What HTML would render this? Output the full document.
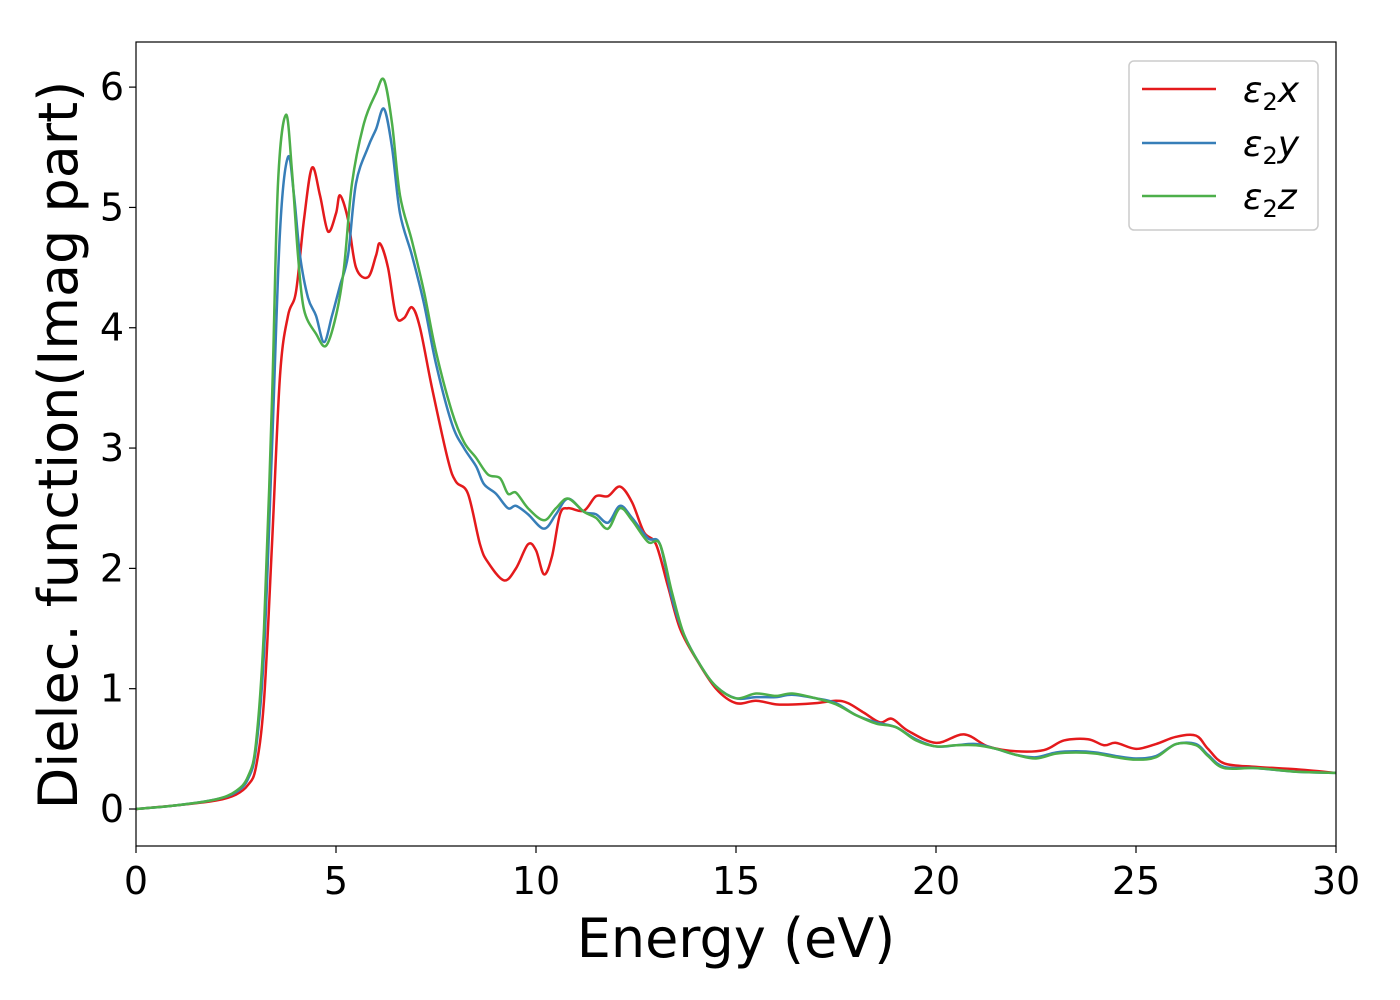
<!DOCTYPE html>
<html><head><meta charset="utf-8"><style>
html,body{margin:0;padding:0;background:#fff;}
svg{display:block;font-family:"DejaVu Sans","Liberation Sans",sans-serif;}
</style></head><body>
<svg id="chart" width="1400" height="1000">
<rect x="0" y="0" width="1400" height="1000" fill="#fff"/>
<g id="plot"></g>
<g id="axes"></g>
<text x="736" y="957" font-size="54" text-anchor="middle">Energy (eV)</text>
<text transform="translate(77,445) rotate(-90)" font-size="54" text-anchor="middle">Dielec. function(Imag part)</text>
<g>
<rect x="1129" y="61" width="189" height="169" rx="5" fill="#fff" stroke="#ccc" stroke-width="1.5"/>
<g><line x1="1142" y1="89" x2="1216" y2="89" stroke="#e41a1c" stroke-width="2.5"/><text x="1243" y="102" font-size="36" font-style="italic">ε<tspan font-size="24" dy="8" font-style="normal">2</tspan><tspan dy="-8">x</tspan></text></g>
<g><line x1="1142" y1="143" x2="1216" y2="143" stroke="#377eb8" stroke-width="2.5"/><text x="1243" y="156" font-size="36" font-style="italic">ε<tspan font-size="24" dy="8" font-style="normal">2</tspan><tspan dy="-8">y</tspan></text></g>
<g><line x1="1142" y1="196" x2="1216" y2="196" stroke="#4daf4a" stroke-width="2.5"/><text x="1243" y="209" font-size="36" font-style="italic">ε<tspan font-size="24" dy="8" font-style="normal">2</tspan><tspan dy="-8">z</tspan></text></g>
</g>
</svg>
<script>
const xTicks=[0,5,10,15,20,25,30];
const yTicks=[0,1,2,3,4,5,6];
const epsXE=[0,1,2,2.5,2.8,3.0,3.2,3.4,3.6,3.8,4.0,4.2,4.4,4.6,4.8,5.0,5.1,5.3,5.5,5.8,6.0,6.1,6.3,6.5,6.7,6.9,7.1,7.4,7.8,8.0,8.3,8.6,8.8,9.2,9.5,9.8,10.0,10.2,10.4,10.6,10.8,11.2,11.5,11.8,12.1,12.4,12.7,13.0,13.3,13.6,14.0,14.5,15.0,15.5,16,16.5,17,17.5,17.8,18.2,18.6,18.9,19.3,20,20.7,21.3,22,22.7,23.2,23.8,24.2,24.5,25,25.5,26,26.5,26.8,27.2,28,29,30];
const epsXV=[0,0.03,0.07,0.12,0.2,0.35,0.9,2.2,3.6,4.1,4.3,4.9,5.33,5.1,4.8,4.95,5.1,4.9,4.5,4.42,4.6,4.7,4.5,4.1,4.08,4.17,4.0,3.5,2.9,2.72,2.62,2.2,2.05,1.9,2.0,2.2,2.15,1.95,2.1,2.45,2.5,2.48,2.6,2.6,2.68,2.55,2.3,2.2,1.85,1.5,1.25,1.0,0.88,0.9,0.87,0.87,0.88,0.9,0.88,0.8,0.72,0.75,0.65,0.55,0.62,0.52,0.48,0.49,0.57,0.58,0.53,0.55,0.5,0.54,0.6,0.61,0.5,0.38,0.35,0.33,0.3];
const epsYE=[0,1,2,2.5,2.8,3.0,3.2,3.4,3.6,3.8,3.95,4.1,4.3,4.5,4.7,4.9,5.1,5.3,5.5,5.8,6.0,6.2,6.4,6.6,6.9,7.2,7.5,7.9,8.2,8.5,8.7,9.0,9.3,9.5,9.8,10.2,10.5,10.8,11.2,11.5,11.8,12.1,12.4,12.8,13.1,13.4,13.7,14.1,14.5,15,15.5,16,16.4,17,17.5,18,18.5,19,19.5,20,20.5,21,21.5,22,22.5,23,23.5,24,24.5,25,25.5,26,26.5,26.8,27.2,28,29,30];
const epsYV=[0,0.03,0.08,0.14,0.25,0.5,1.3,3.0,4.8,5.42,5.1,4.6,4.25,4.1,3.88,4.1,4.35,4.6,5.2,5.5,5.65,5.82,5.5,4.95,4.6,4.2,3.7,3.2,3.0,2.85,2.7,2.62,2.5,2.52,2.45,2.33,2.45,2.58,2.47,2.45,2.38,2.52,2.42,2.25,2.2,1.75,1.45,1.2,1.02,0.92,0.93,0.93,0.95,0.92,0.88,0.78,0.72,0.68,0.58,0.52,0.53,0.54,0.5,0.45,0.43,0.47,0.48,0.47,0.44,0.42,0.44,0.54,0.54,0.45,0.35,0.34,0.31,0.3];
const epsZE=[0,1,2,2.5,2.8,3.0,3.2,3.4,3.55,3.75,3.9,4.05,4.2,4.5,4.75,5.0,5.2,5.4,5.7,6.0,6.2,6.4,6.6,6.9,7.2,7.5,7.9,8.2,8.5,8.8,9.1,9.3,9.5,9.8,10.2,10.5,10.8,11.2,11.5,11.8,12.1,12.4,12.8,13.1,13.4,13.7,14.1,14.5,15,15.5,16,16.4,17,17.5,18,18.5,19,19.5,20,20.5,21,21.5,22,22.5,23,23.5,24,24.5,25,25.5,26,26.5,26.8,27.2,28,29,30];
const epsZV=[0,0.03,0.08,0.15,0.27,0.55,1.5,3.4,5.2,5.77,5.3,4.6,4.15,3.95,3.85,4.1,4.5,5.2,5.7,5.95,6.06,5.7,5.1,4.72,4.3,3.8,3.3,3.05,2.92,2.78,2.75,2.62,2.63,2.5,2.4,2.5,2.58,2.47,2.42,2.33,2.5,2.4,2.22,2.2,1.8,1.45,1.2,1.02,0.92,0.96,0.94,0.96,0.92,0.87,0.78,0.71,0.68,0.57,0.52,0.53,0.53,0.5,0.45,0.42,0.46,0.47,0.46,0.43,0.41,0.43,0.54,0.53,0.44,0.34,0.34,0.31,0.3];

const NS="http://www.w3.org/2000/svg";
const L=136,R=1336,T=42,B=846;
const xMin=0,xMax=30,yMin=-0.3075,yMax=6.375;
const sx=v=>L+(v-xMin)/(xMax-xMin)*(R-L);
const sy=v=>B-(v-yMin)/(yMax-yMin)*(B-T);
const plot=document.getElementById('plot'),axes=document.getElementById('axes');
function smooth(xs,ys){
  const p=xs.map((x,i)=>[sx(x),sy(ys[i])]);
  let d=`M${p[0][0]},${p[0][1]}`;
  for(let i=0;i<p.length-1;i++){
    const p0=p[i-1]||p[i],p1=p[i],p2=p[i+1],p3=p[i+2]||p2;
    const c1=[p1[0]+(p2[0]-p0[0])/6,p1[1]+(p2[1]-p0[1])/6];
    const c2=[p2[0]-(p3[0]-p1[0])/6,p2[1]-(p3[1]-p1[1])/6];
    d+=`C${c1[0]},${c1[1]} ${c2[0]},${c2[1]} ${p2[0]},${p2[1]}`;
  }
  return d;
}
function line(xs,ys,col,name){
  const el=document.createElementNS(NS,'path');
  el.setAttribute('d',smooth(xs,ys));
  el.setAttribute('fill','none');el.setAttribute('stroke',col);el.setAttribute('stroke-width','2.5');
  
  
  plot.appendChild(el);
}
line(epsXE,epsXV,'#e41a1c','series-eps2-x');
line(epsYE,epsYV,'#377eb8','series-eps2-y');
line(epsZE,epsZV,'#4daf4a','series-eps2-z');
const fr=document.createElementNS(NS,'rect');
fr.setAttribute('x',L);fr.setAttribute('y',T);fr.setAttribute('width',R-L);fr.setAttribute('height',B-T);
fr.setAttribute('fill','none');fr.setAttribute('stroke','#000');fr.setAttribute('stroke-width','1.2');


axes.appendChild(fr);
xTicks.forEach(v=>{
  const t=document.createElementNS(NS,'line');
  t.setAttribute('x1',sx(v));t.setAttribute('x2',sx(v));t.setAttribute('y1',B);t.setAttribute('y2',B+7);t.setAttribute('stroke','#000');t.setAttribute('stroke-width','1.2');
  
  
  axes.appendChild(t);
  const tx=document.createElementNS(NS,'text');
  tx.setAttribute('x',sx(v));tx.setAttribute('y',B+48);tx.setAttribute('font-size','38');tx.setAttribute('text-anchor','middle');
  tx.textContent=v;
  
  
  axes.appendChild(tx);
});
yTicks.forEach(v=>{
  const t=document.createElementNS(NS,'line');
  t.setAttribute('x1',L-7);t.setAttribute('x2',L);t.setAttribute('y1',sy(v));t.setAttribute('y2',sy(v));t.setAttribute('stroke','#000');t.setAttribute('stroke-width','1.2');
  
  
  axes.appendChild(t);
  const tx=document.createElementNS(NS,'text');
  tx.setAttribute('x',L-12);tx.setAttribute('y',sy(v)+13);tx.setAttribute('font-size','38');tx.setAttribute('text-anchor','end');
  tx.textContent=v;
  
  
  axes.appendChild(tx);
});
</script>
</body></html>
